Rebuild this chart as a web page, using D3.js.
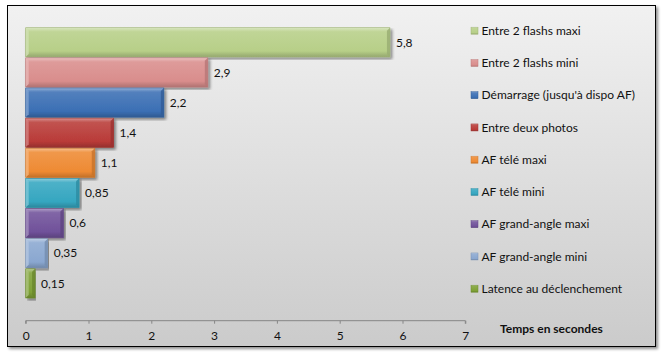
<!DOCTYPE html>
<html><head><meta charset="utf-8">
<script src="https://cdn.jsdelivr.net/npm/d3@7"></script>
<style>
html,body{margin:0;padding:0;background:#fff;}
svg{display:block;font-family:Lato,"Open Sans",sans-serif;}
</style></head>
<body><svg id="c" width="662" height="357"></svg>
<script>
const categories = ["Entre 2 flashs maxi","Entre 2 flashs mini","Démarrage (jusqu'à dispo AF)","Entre deux photos","AF télé maxi","AF télé mini","AF grand-angle maxi","AF grand-angle mini","Latence au déclenchement"];
const values = [5.8, 2.9, 2.2, 1.4, 1.1, 0.85, 0.6, 0.35, 0.15];
const valueLabels = ["5,8","2,9","2,2","1,4","1,1","0,85","0,6","0,35","0,15"];
const colors = ["#b7cf88","#d98d8c","#3b6fb4","#b93b38","#ee8a33","#35a6c0","#70519a","#8aa7d0","#7ea135"];
const ticks = [0,1,2,3,4,5,6,7];
const axisTitle = "Temps en secondes";

const svg = d3.select("#c");
const defs = svg.append("defs");
// background gradient
const bg = defs.append("linearGradient").attr("id","bg").attr("x1",0).attr("y1",0).attr("x2",0).attr("y2",1);
bg.append("stop").attr("offset","0%").attr("stop-color","#f1f1f1");
bg.append("stop").attr("offset","100%").attr("stop-color","#cbcbcb");
const sh = defs.append("filter").attr("id","sh").attr("x","-5%").attr("y","-5%").attr("width","110%").attr("height","115%");
sh.append("feGaussianBlur").attr("in","SourceAlpha").attr("stdDeviation",1.5);
sh.append("feOffset").attr("dx",2).attr("dy",2).attr("result","o");
sh.append("feComponentTransfer").append("feFuncA").attr("type","linear").attr("slope",0.45);
const m = sh.append("feMerge"); m.append("feMergeNode"); m.append("feMergeNode").attr("in","SourceGraphic");

svg.append("rect").attr("x",7.5).attr("y",5.5).attr("width",648).attr("height",341)
  .attr("fill","url(#bg)").attr("stroke","#000").attr("stroke-width",1).attr("filter","url(#sh)");

const x = d3.scaleLinear().domain([0,7]).range([25.7,465.3]);
const y = d3.scaleBand().domain(categories).range([27.7,298]).paddingInner(0.03).paddingOuter(0);

// bars
categories.forEach((c,i)=>{
  const g = defs.append("linearGradient").attr("id","g"+i).attr("x1",0).attr("y1",0).attr("x2",0).attr("y2",1);
  const base = d3.color(colors[i]);
  g.append("stop").attr("offset","0%").attr("stop-color",d3.interpolateRgb(base,"#fff")(0.45));
  g.append("stop").attr("offset","14%").attr("stop-color",d3.interpolateRgb(base,"#fff")(0.12));
  g.append("stop").attr("offset","80%").attr("stop-color",base.formatHex());
  g.append("stop").attr("offset","100%").attr("stop-color",base.darker(0.6).formatHex());
});
const bars = svg.append("g");
categories.forEach((c,i)=>{
  const x0 = x(0), x1 = x(values[i]), y0 = y(c), h = y.bandwidth();
  const base = d3.color(colors[i]);
  const gg = bars.append("g").attr("filter","url(#sh)");
  gg.append("rect").attr("x",x0).attr("y",y0).attr("width",x1-x0).attr("height",h)
    .attr("fill","url(#g"+i+")");
  const b = Math.min(3,(x1-x0)/3);
  // left bevel highlight
  gg.append("path").attr("d",`M${x0},${y0}L${x0+b},${y0+b}L${x0+b},${y0+h-b}L${x0},${y0+h}Z`)
    .attr("fill",d3.interpolateRgb(base,"#fff")(0.35)).attr("opacity",0.8);
  // right bevel dark
  gg.append("path").attr("d",`M${x1},${y0}L${x1-b},${y0+b}L${x1-b},${y0+h-b}L${x1},${y0+h}Z`)
    .attr("fill",base.darker(0.5).formatHex()).attr("opacity",0.8);
  gg.append("rect").attr("x",x0).attr("y",y0).attr("width",x1-x0).attr("height",h)
    .attr("fill","none").attr("stroke",base.darker(0.4).formatHex()).attr("stroke-width",0.6);
  svg.append("text").attr("x",x1+6).attr("y",y0+h/2).attr("dy","0.35em")
    .attr("font-size",12).attr("fill","#111").text(valueLabels[i]);
});

// axis
const axisY = 320.7;
const ax = svg.append("g").attr("transform",`translate(0,${axisY})`)
  .call(d3.axisBottom(x).tickValues(ticks).tickSize(3).tickFormat(d3.format("d")));
ax.select(".domain").attr("stroke","#868686").attr("d",`M${x(0)},3V0H${x(7)}V3`);
ax.selectAll(".tick line").attr("stroke","#868686");
ax.selectAll(".tick text").attr("font-size",12).attr("fill","#111").attr("y",11).attr("dy","0.71em").attr("font-family","Lato,sans-serif");

svg.append("text").attr("x",500).attr("y",329).attr("dy","0.35em").attr("font-size",12)
  .attr("font-weight","bold").attr("fill","#111").text(axisTitle);

// legend
const ly = d3.scalePoint().domain(categories).range([30.7,288.7]);
const leg = svg.append("g");
categories.forEach((c,i)=>{
  const cy = ly(c), base = d3.color(colors[i]);
  leg.append("rect").attr("x",471).attr("y",cy-3.5).attr("width",7).attr("height",7)
    .attr("fill","url(#g"+i+")").attr("stroke",base.darker(0.4).formatHex()).attr("stroke-width",0.5);
  leg.append("text").attr("x",481.5).attr("y",cy).attr("dy","0.35em").attr("font-size",12)
    .attr("fill","#111").text(c);
});
</script></body></html>
